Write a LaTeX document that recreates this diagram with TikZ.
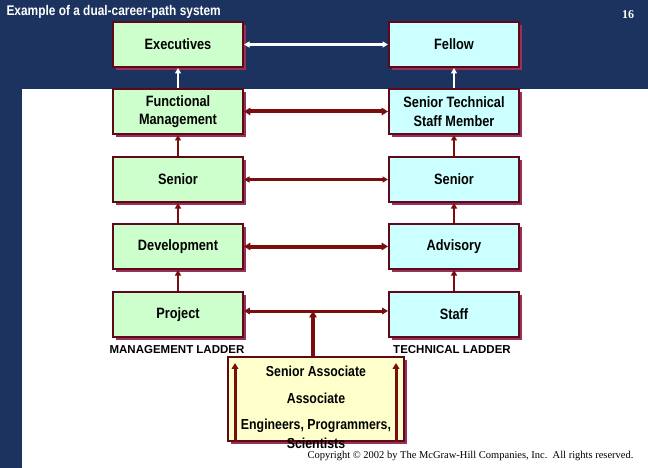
\documentclass[tikz,border=0pt]{standalone}
\usepackage{fontspec}
\setmainfont{Liberation Sans}
\newfontfamily\narrowfont{Liberation Sans}[FakeStretch=0.85]
\newfontfamily\copyfont{Liberation Serif}
\usetikzlibrary{arrows.meta,shadows}

\definecolor{slidenavy}{RGB}{27,51,94}
\definecolor{mgmtgreen}{RGB}{204,255,204}
\definecolor{techcyan}{RGB}{204,255,255}
\definecolor{entryyellow}{RGB}{255,255,204}
\definecolor{boxborder}{RGB}{96,8,24}
\definecolor{boxshadow}{RGB}{150,50,90}
\definecolor{ladderred}{RGB}{122,14,14}

\tikzset{
	rung/.style={rectangle, draw=boxborder, line width=2pt,
		minimum width=130pt, minimum height=45pt, align=center,
		font=\narrowfont\bfseries\fontsize{15}{18.5}\selectfont,
		drop shadow={shadow xshift=3pt, shadow yshift=-3pt, fill=boxshadow, opacity=1}},
	mgmt/.style={rung, fill=mgmtgreen},
	tech/.style={rung, fill=techcyan},
	tip/.tip={Triangle[length=4pt 0.6, width=3.5pt 1]},
	link/.style={draw=ladderred, tip-tip},
	climb/.style={draw=ladderred, line width=2.5pt, -tip},
	ladderlabel/.style={font=\bfseries\fontsize{11.5}{14}\selectfont},
	entrytext/.style={font=\narrowfont\bfseries\fontsize{14.5}{18}\selectfont}
}

\begin{document}
\begin{tikzpicture}[x=1pt, y=-1pt]
		
		\useasboundingbox (0,0) rectangle (648,468);
		
		% Slide background
		
		\fill[slidenavy] (0,0) rectangle (648,468);
		\fill[white] (22,89) rectangle (648,468);
		
		\node[anchor=west, text=white, font=\narrowfont\bfseries\fontsize{14}{16}\selectfont] 
		(title) at (3,12) {Example of a dual-career-path system};
		
		\node[text=white, font=\copyfont\bfseries\fontsize{12}{14}\selectfont] 
		(pageno) at (628,15) {16};
		
		% Management ladder
		
		\node[mgmt] (exec) at (178,44.5) {Executives};
		
		\node[mgmt] (func) at (178,111.5) {Functional\\Management};
		
		\node[mgmt] (msenior) at (178,179.5) {Senior};
		
		\node[mgmt] (devel) at (178,246.5) {Development};
		
		\node[mgmt] (proj) at (178,314.5) {Project};
		
		% Technical ladder
		
		\node[tech] (fellow) at (454,44.5) {Fellow};
		
		\node[tech] (stsm) at (454,111.5) {Senior Technical\\Staff Member};
		
		\node[tech] (tsenior) at (454,179.5) {Senior};
		
		\node[tech] (advis) at (454,246.5) {Advisory};
		
		\node[tech] (staff) at (454,314.5) {Staff};
		
		\node[ladderlabel] (mlabel) at (177,350) {MANAGEMENT LADDER};
		
		\node[ladderlabel] (tlabel) at (452,350) {TECHNICAL LADDER};
		
		% Entry level
		
		\node[rectangle, draw=boxborder, line width=2pt, fill=entryyellow, minimum width=176pt, minimum height=84pt,
		drop shadow={shadow xshift=3pt, shadow yshift=-3pt, fill=boxshadow, opacity=1}] 
		(entry) at (316,399) {};
		
		\coordinate (hub) at (313,311);
		\coordinate (leftrail) at (235,363);
		\coordinate (rightrail) at (396,363);
		
		\draw[climb, line width=3pt] (entry.south -| leftrail) -- (leftrail);
		
		\draw[climb, line width=3pt] (entry.south -| rightrail) -- (rightrail);
		
		\node[entrytext] (sassoc) at (316,371) {Senior Associate};
		
		\node[entrytext] (assoc) at (316,398) {Associate};
		
		\node[entrytext] (engin) at (316,426) {Engineers, Programmers,};
		
		\node[entrytext] (scient) at (316,443) {Scientists};
		
		% Cross links
		
		\draw[link, draw=white, line width=2.5pt] (exec.east) -- (fellow.west);
		
		\draw[link, line width=4pt] (func.east) -- (stsm.west);
		
		\draw[link, line width=2.5pt] (msenior.east) -- (tsenior.west);
		
		\draw[link, line width=4pt] (devel.east) -- (advis.west);
		
		\draw[link, line width=3pt] (proj.east |- hub) -- (staff.west |- hub);
		
		\draw[climb, line width=4pt] (entry.north -| hub) -- (hub);
		
		% Promotions
		
		\draw[climb, draw=white] (func.north) -- (exec.south);
		
		\draw[climb] (msenior.north) -- (func.south);
		
		\draw[climb] (devel.north) -- (msenior.south);
		
		\draw[climb] (proj.north) -- (devel.south);
		
		\draw[climb, draw=white] (stsm.north) -- (fellow.south);
		
		\draw[climb] (tsenior.north) -- (stsm.south);
		
		\draw[climb] (advis.north) -- (tsenior.south);
		
		\draw[climb] (staff.north) -- (advis.south);
		
		\node[anchor=east, font=\copyfont\fontsize{10.5}{12}\selectfont] 
		(copy) at (637,456) {Copyright \textcopyright{} 2002 by The McGraw-Hill Companies, Inc.\ \ All rights reserved.};
		
	\end{tikzpicture}
\end{document}
